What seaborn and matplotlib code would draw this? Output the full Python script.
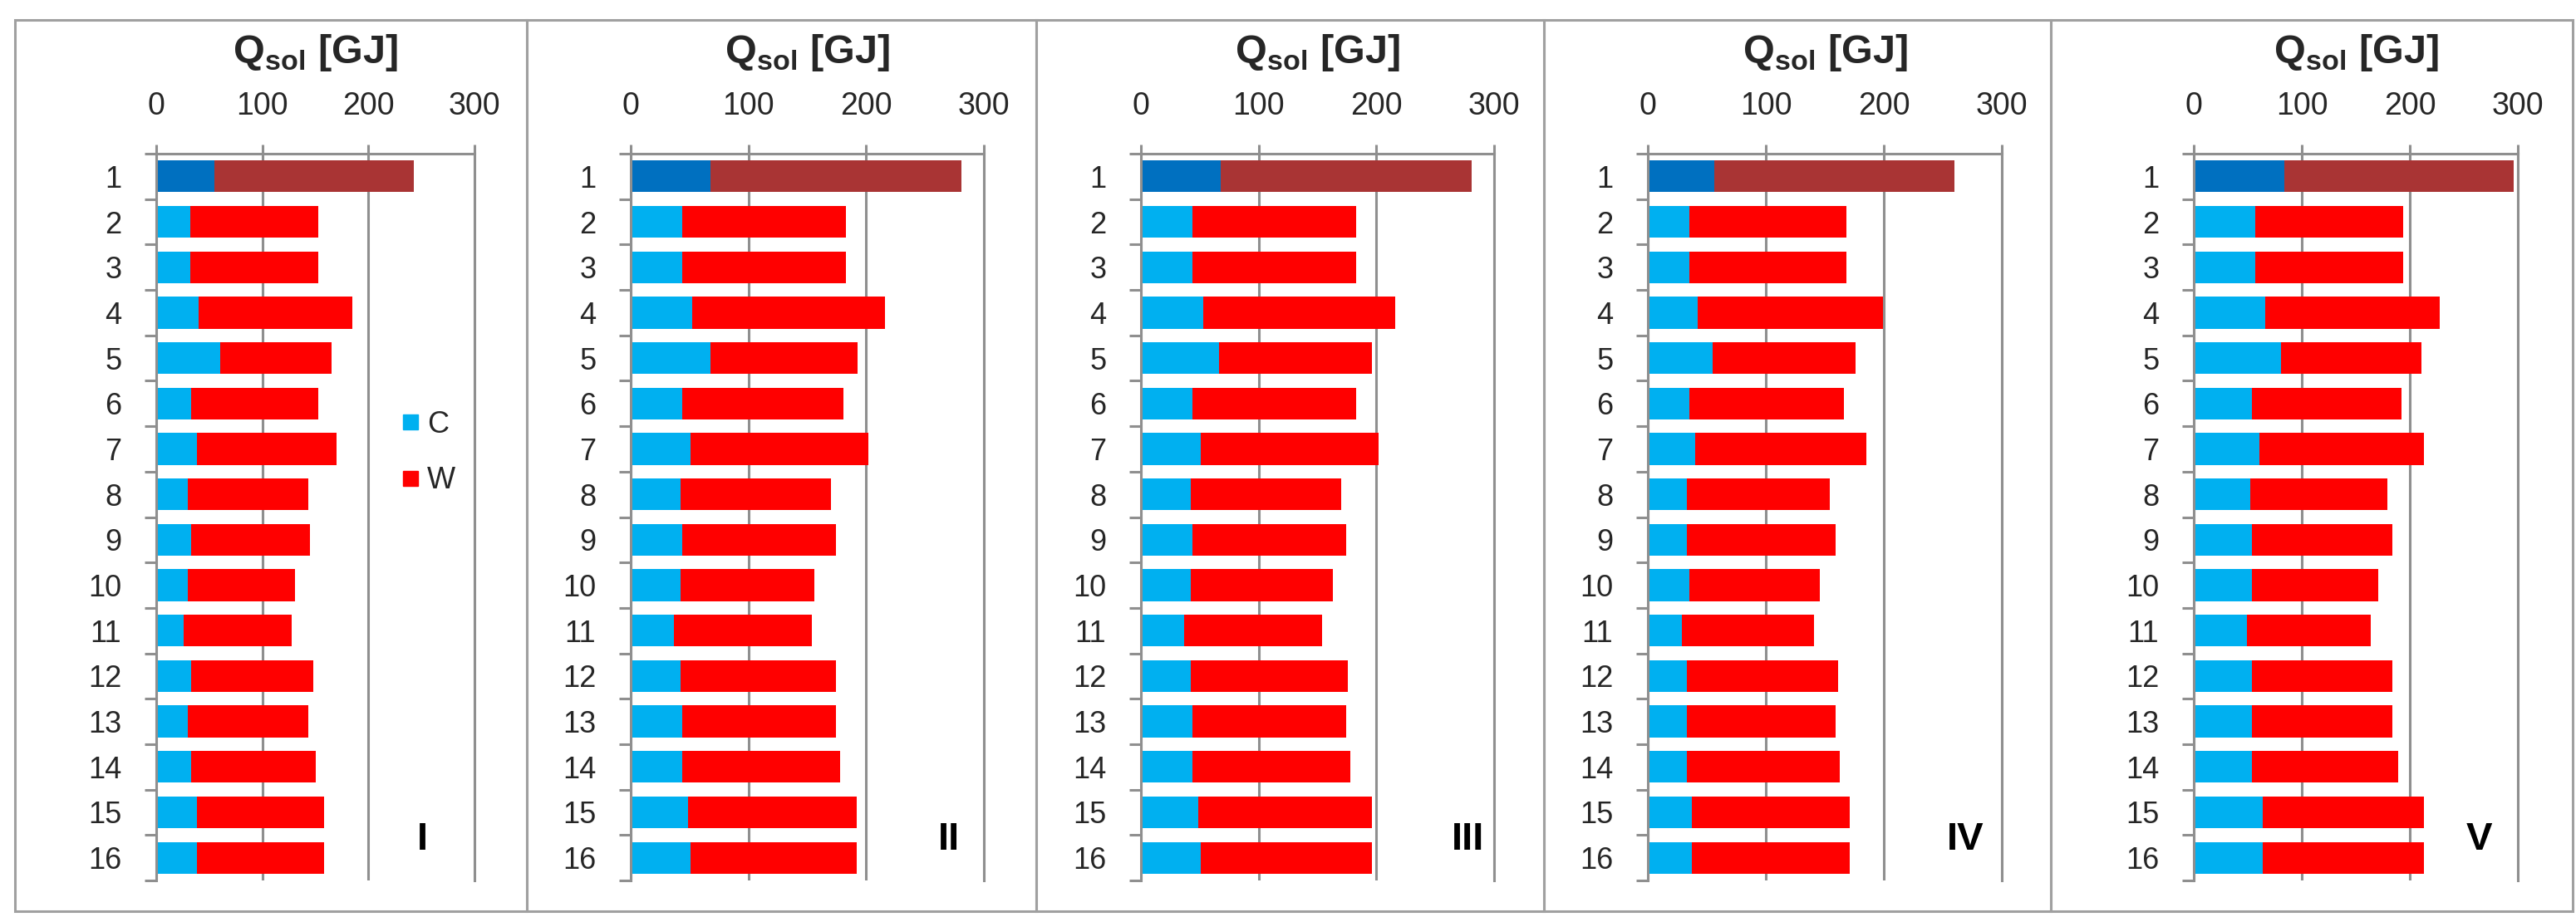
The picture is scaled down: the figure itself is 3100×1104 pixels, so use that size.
import numpy as np
import pandas as pd
import seaborn as sns
import matplotlib.pyplot as plt
from matplotlib.lines import Line2D
from matplotlib.patches import Rectangle

# data (GJ)
cases = [str(i) for i in range(1, 17)]
panels = ["I", "II", "III", "IV", "V"]
x_ticks = [0, 100, 200, 300]

c_I = [55, 32, 32, 40, 60, 33, 38, 30, 33, 30, 26, 33, 30, 33, 38, 38]
w_I = [188, 121, 121, 145, 105, 120, 132, 113, 112, 101, 102, 115, 113, 117, 120, 120]
c_II = [68, 44, 44, 52, 68, 44, 51, 42, 44, 42, 37, 42, 44, 44, 49, 51]
w_II = [213, 139, 139, 164, 125, 137, 151, 128, 130, 114, 117, 132, 130, 134, 143, 141]
c_III = [68, 44, 44, 53, 66, 44, 51, 42, 44, 42, 37, 42, 44, 44, 49, 51]
w_III = [213, 139, 139, 163, 130, 139, 151, 128, 130, 121, 117, 134, 130, 134, 147, 145]
c_IV = [56, 35, 35, 42, 55, 35, 40, 33, 33, 35, 29, 33, 33, 33, 37, 37]
w_IV = [204, 133, 133, 157, 121, 131, 145, 121, 126, 111, 112, 128, 126, 130, 134, 134]
c_V = [84, 57, 57, 66, 81, 54, 61, 52, 54, 54, 49, 54, 54, 54, 64, 64]
w_V = [212, 137, 137, 162, 130, 138, 152, 127, 130, 117, 115, 130, 130, 135, 149, 149]

c_series = [c_I, c_II, c_III, c_IV, c_V]
w_series = [w_I, w_II, w_III, w_IV, w_V]

sns.set_theme(style="white")
plt.rcParams["font.family"] = ["Liberation Sans", "DejaVu Sans"]
plt.rcParams["mathtext.fontset"] = "custom"
plt.rcParams["mathtext.rm"] = "Liberation Sans"
plt.rcParams["mathtext.bf"] = "Liberation Sans:bold"

W, H = 3100, 1104
fig = plt.figure(figsize=(W / 100, H / 100), dpi=100)

gray = "#8f8f8f"
c_colors = ["#0070C0"] + ["#00B0F0"] * 15
w_colors = ["#A93434"] + ["#FF0000"] * 15

axes_px = [(188, 571), (759, 1184), (1373, 1798), (1983, 2409), (2640, 3030)]
boxes_px = [(18, 634), (634, 1247), (1247, 1858), (1858, 2468), (2468, 3096)]
roman_x = [251, 270, 278, 269, 264]
top_px, bot_px = 185, 1060

for i, panel in enumerate(panels):
    l, r = axes_px[i]
    ax = fig.add_axes([l / W, 1 - bot_px / H, (r - l) / W, (bot_px - top_px) / H])

    df = pd.DataFrame({"case": cases, "C": c_series[i], "W": w_series[i]})
    df["total"] = df["C"] + df["W"]

    # stacked: full bar in W colour, then C part on top
    sns.barplot(data=df, y="case", x="total", hue="case", palette=w_colors,
                orient="h", width=0.7, dodge=False, legend=False,
                saturation=1, errorbar=None, linewidth=0, ax=ax)
    sns.barplot(data=df, y="case", x="C", hue="case", palette=c_colors,
                orient="h", width=0.7, dodge=False, legend=False,
                saturation=1, errorbar=None, linewidth=0, ax=ax)

    ax.set_xlim(0, 300)
    ax.set_ylim(15.5, -0.5)
    ax.set_xlabel("")
    ax.set_ylabel("")

    ax.xaxis.tick_top()
    ax.set_xticks(x_ticks)
    ax.tick_params(axis="x", which="major", top=True, bottom=False, length=8,
                   width=2.2, color=gray, pad=20, labelsize=27, direction="out")

    ax.set_yticks(range(16))
    ax.set_yticklabels(cases)
    ax.set_yticks(np.arange(-0.5, 16, 1), minor=True)
    ax.tick_params(axis="y", which="major", left=True, length=0, pad=30, labelsize=26)
    ax.tick_params(axis="y", which="minor", left=True, length=10, width=2.2,
                   color=gray, direction="out")

    ax.set_axisbelow(True)
    ax.grid(axis="x", color=gray, linewidth=2.2)
    ax.grid(axis="y", visible=False)
    for side in ["left", "top", "right"]:
        ax.spines[side].set_visible(True)
        ax.spines[side].set_color(gray)
        ax.spines[side].set_linewidth(2.2)
    ax.spines["bottom"].set_visible(False)

    ax.text(roman_x[i], 14.6, panel, ha="center", va="center",
            fontsize=34, fontweight="bold", color="black")

    fig.text((l + r) / 2 / W, 1 - 63 / H, r"Q$_{\mathbf{sol}}$ [GJ]",
             ha="center", va="center", fontsize=35, fontweight="bold")

    if i == 0:
        handles = [Line2D([], [], marker="s", ls="", color="#00B0F0", markersize=13),
                   Line2D([], [], marker="s", ls="", color="#FF0000", markersize=13)]
        ax.legend(handles, ["C", "W"], loc="upper left", bbox_to_anchor=(0.775, 0.647),
                  frameon=False, fontsize=26, handlelength=0.5, handletextpad=0.3,
                  labelspacing=0.9, borderpad=0, borderaxespad=0)

    bl, br = boxes_px[i]
    fig.add_artist(Rectangle((bl / W, 1 - 1097 / H), (br - bl) / W, 1073 / H,
                             transform=fig.transFigure, fill=False,
                             edgecolor="#a0a0a0", linewidth=2.2))

fig.savefig("out.png", dpi=100)
